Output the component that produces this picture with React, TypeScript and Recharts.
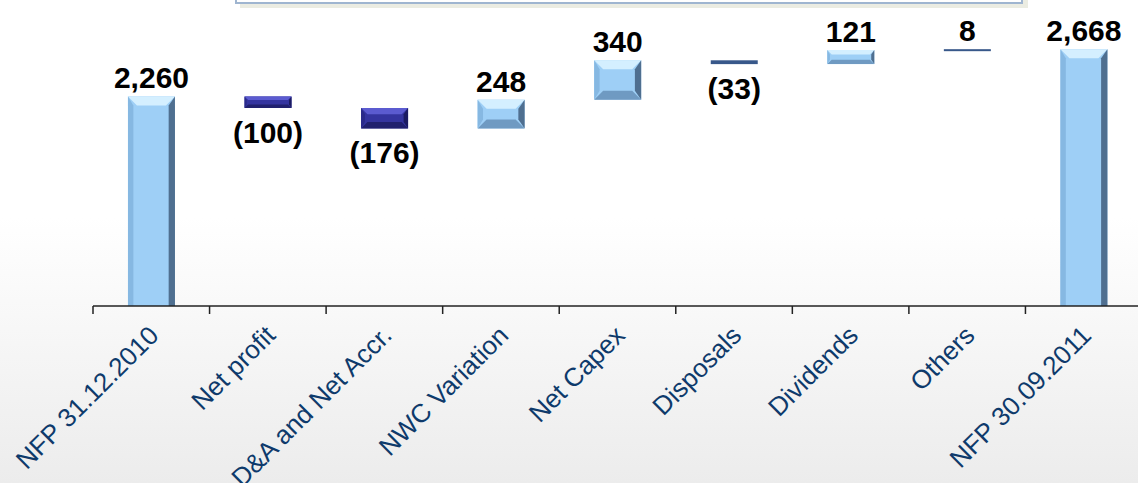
import React from "react";
import { BarChart, Bar, XAxis, YAxis, LabelList } from "recharts";

const categories: string[] = [
  "NFP 31.12.2010",
  "Net profit",
  "D&A and Net Accr.",
  "NWC Variation",
  "Net Capex",
  "Disposals",
  "Dividends",
  "Others",
  "NFP 30.09.2011",
];
const changes: number[] = [2260, -100, -176, 248, 340, -33, 121, 8, 2668];
const isTotal: boolean[] = [true, false, false, false, false, false, false, false, true];

const W = 1160;
const H = 483;
const M = { top: 20, right: 18, bottom: 27, left: 93 };
const X_AXIS_H = 150;
const AXIS_Y = H - M.bottom - X_AXIS_H;
const BAND = (W - M.left - M.right) / categories.length;
const Y_MIN = 450;
const Y_MAX = 2920;

// running totals -> [low, high] for each floating bar
let run = 0;
const rows = categories.map((name, i) => {
  let lo: number;
  let hi: number;
  if (isTotal[i]) {
    lo = 0;
    hi = changes[i];
    run = changes[i];
  } else {
    const next = run + changes[i];
    lo = Math.min(run, next);
    hi = Math.max(run, next);
    run = next;
  }
  return { name, range: [lo, hi] };
});

const fmt = (v: number, i: number) =>
  !isTotal[i] && v < 0 ? `(${Math.abs(v)})` : v.toLocaleString("en-US");

const BevelBar = (props: any) => {
  const { x, y, width, height, index } = props;
  const h = Math.abs(height);
  const top = height < 0 ? y + height : y;
  const w = width;
  const neg = !isTotal[index] && changes[index] < 0;
  if (h < 5) {
    return <rect x={x} y={top} width={w} height={Math.max(h, 2)} fill="#38588a" />;
  }
  const c = neg
    ? { main: "#34349f", top: "#5b5bd0", left: "#2a2a8a", right: "#1b1b62", bottom: "#20206e" }
    : { main: "#9ecff6", top: "#d4efff", left: "#86b8e2", right: "#4f6f90", bottom: "#6f9ac2" };
  const b = Math.min(9, h / 3.2, w / 4);
  const bt = top + h;
  return (
    <g>
      <rect x={x} y={top} width={w} height={h} fill={c.main} />
      <polygon points={`${x},${top} ${x + w},${top} ${x + w - b},${top + b} ${x + b},${top + b}`} fill={c.top} />
      <polygon points={`${x},${bt} ${x + w},${bt} ${x + w - b},${bt - b} ${x + b},${bt - b}`} fill={c.bottom} />
      <polygon points={`${x},${top} ${x + b * 0.6},${top + b} ${x + b * 0.6},${bt - b} ${x},${bt}`} fill={c.left} />
      <polygon points={`${x + w},${top} ${x + w - b * 0.7},${top + b} ${x + w - b * 0.7},${bt - b} ${x + w},${bt}`} fill={c.right} />
    </g>
  );
};

const ValueLabel = (props: any) => {
  const { x, y, width, height, index } = props;
  const top = Math.min(y, y + height);
  const bottom = Math.max(y, y + height);
  const v = changes[index];
  const neg = !isTotal[index] && v < 0;
  return (
    <text
      x={x + width / 2}
      y={neg ? bottom + 35 : top - 8}
      textAnchor="middle"
      fontFamily="'Liberation Sans', Arial, sans-serif"
      fontWeight="bold"
      fontSize={30}
      fill="#000"
    >
      {fmt(v, index)}
    </text>
  );
};

const CategoryTick = (props: any) => {
  const { x, payload, index } = props;
  return (
    <g>
      <line x1={x - BAND / 2} y1={AXIS_Y} x2={x - BAND / 2} y2={AXIS_Y + 8} stroke="#222" strokeWidth={1.5} />
      {index === categories.length - 1 && (
        <line x1={x + BAND / 2} y1={AXIS_Y} x2={x + BAND / 2} y2={AXIS_Y + 8} stroke="#222" strokeWidth={1.5} />
      )}
      <text
        transform={`translate(${x + 9},${AXIS_Y + 31}) rotate(-45)`}
        textAnchor="end"
        fontFamily="'Liberation Sans', Arial, sans-serif"
        fontSize={26}
        fill="#0e3a6b"
      >
        {payload.value}
      </text>
    </g>
  );
};

export default function App() {
  return (
    <div
      style={{
        position: "absolute",
        left: 0,
        top: 0,
        width: 1138,
        height: H,
        overflow: "hidden",
        background: "linear-gradient(to bottom, #ffffff 0%, #ffffff 45%, #ececec 100%)",
      }}
    >
      <div
        style={{
          position: "absolute",
          left: 235,
          top: -28,
          width: 784,
          height: 28,
          background: "#ffffff",
          border: "2px solid #9fb5d0",
          boxShadow: "5px 4px 0 #ebece2",
        }}
      />
      <BarChart width={W} height={H} data={rows} margin={M} barCategoryGap="30%">
        <XAxis
          dataKey="name"
          height={X_AXIS_H}
          interval={0}
          tickLine={false}
          axisLine={{ stroke: "#222", strokeWidth: 1.5 }}
          tick={<CategoryTick />}
        />
        <YAxis hide domain={[Y_MIN, Y_MAX]} allowDataOverflow />
        <Bar dataKey="range" shape={<BevelBar />} isAnimationActive={false}>
          <LabelList dataKey="range" content={<ValueLabel />} />
        </Bar>
      </BarChart>
    </div>
  );
}
